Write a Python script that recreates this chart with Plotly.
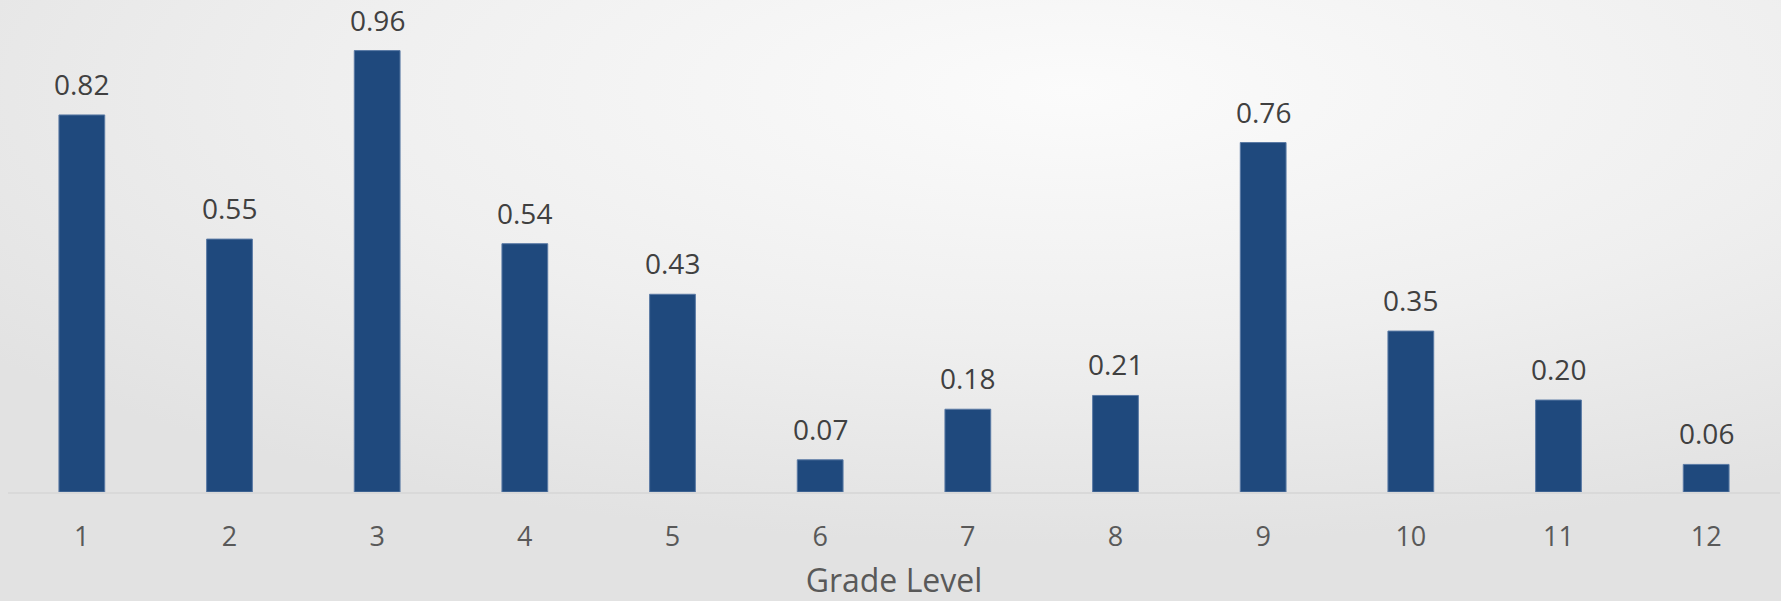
import base64
import plotly.graph_objects as go

# Grade level scores
grades = ["1", "2", "3", "4", "5", "6", "7", "8", "9", "10", "11", "12"]
scores = [0.82, 0.55, 0.96, 0.54, 0.43, 0.07, 0.18, 0.21, 0.76, 0.35, 0.20, 0.06]
x_title = "Grade Level"

W, H = 1781, 601
BAR_COLOR = "#1f497d"
FONT = "Open Sans"

# soft radial background, light in the middle and greyer towards the edges
svg = f"""<svg xmlns='http://www.w3.org/2000/svg' width='{W}' height='{H}' viewBox='0 0 {W} {H}' preserveAspectRatio='none'>
<defs><radialGradient id='g' cx='0.6' cy='0.15' r='0.75' gradientUnits='objectBoundingBox'>
<stop offset='0' stop-color='#fbfbfb'/><stop offset='0.55' stop-color='#efefef'/><stop offset='1' stop-color='#e2e2e2'/>
</radialGradient></defs><rect width='100%' height='100%' fill='url(#g)'/></svg>"""
bg_uri = "data:image/svg+xml;base64," + base64.b64encode(svg.encode()).decode()

fig = go.Figure(
    go.Bar(
        x=grades,
        y=scores,
        marker=dict(color=BAR_COLOR, line=dict(color="#5a7aa5", width=1)),
        hoverinfo="x+y",
    )
)

# value labels above each bar (category axis positions are the list indices)
for i, v in enumerate(scores):
    fig.add_annotation(
        x=i, y=v, text=f"{v:.2f}", showarrow=False,
        yanchor="bottom", yshift=11, borderpad=0,
        font=dict(family=FONT, size=28, color="#404040"),
    )

fig.update_layout(
    width=W, height=H,
    margin=dict(l=8, r=1, t=0, b=109),
    paper_bgcolor="rgba(0,0,0,0)",
    plot_bgcolor="rgba(0,0,0,0)",
    bargap=0.69,
    showlegend=False,
    images=[dict(source=bg_uri, xref="paper", yref="paper", x=-0.005, y=1.0,
                 sizex=1.01, sizey=1.23, xanchor="left", yanchor="top",
                 sizing="stretch", layer="below")],
    xaxis=dict(
        type="category",
        range=[-0.5, len(grades) - 0.5],
        showline=True, linecolor="#d9d9d9", linewidth=2,
        showgrid=False, ticks="", ticklabelstandoff=20,
        tickfont=dict(family=FONT, size=27, color="#595959"),
        title=dict(text=x_title, standoff=18,
                   font=dict(family=FONT, size=32, color="#595959")),
    ),
    yaxis=dict(range=[0, 1.07], visible=False, showgrid=False, zeroline=False),
)

fig.write_html("out.html")
